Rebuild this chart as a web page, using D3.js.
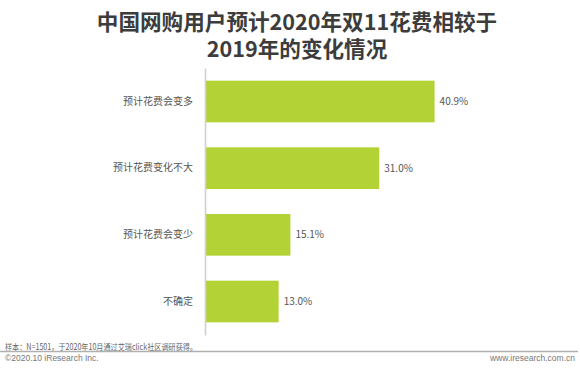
<!DOCTYPE html>
<html>
<head>
<meta charset="utf-8">
<script src="https://cdn.jsdelivr.net/npm/d3@7"></script>
<style>
  body { margin: 0; background: #fff; }
  svg { display: block; font-family: "Noto Sans CJK SC", "Microsoft YaHei", sans-serif; }
</style>
</head>
<body>
<svg width="580" height="370"></svg>
<script>
// data
var categories = ["预计花费会变多", "预计花费变化不大", "预计花费会变少", "不确定"];
var values = [40.9, 31.0, 15.1, 13.0];
var titleLines = ["中国网购用户预计2020年双11花费相较于", "2019年的变化情况"];
var note = "样本：N=1501，于2020年10月通过艾瑞click社区调研获得。";

var svg = d3.select("svg"),
  width = +svg.attr("width"),
  height = +svg.attr("height");

var x = d3.scaleLinear().domain([0, 45]).range([206, 457.5]);
var y = d3.scaleBand().domain(categories).range([68, 335])
  .paddingInner(0.375).paddingOuter(0.19);

// title
svg.append("g").selectAll("text")
  .data(titleLines)
  .enter().append("text")
  .attr("x", 297)
  .attr("y", function(d, i) { return 29.5 + i * 27; })
  .attr("text-anchor", "middle")
  .attr("font-size", 21.6)
  .attr("font-weight", "bold")
  .attr("fill", "#3c3c3c")
  .text(function(d) { return d; });

// bars
svg.append("g").selectAll("rect")
  .data(values)
  .enter().append("rect")
  .attr("x", x(0))
  .attr("y", function(d, i) { return y(categories[i]); })
  .attr("width", function(d) { return x(d) - x(0); })
  .attr("height", y.bandwidth())
  .attr("fill", "#b2d235");

// value labels
svg.append("g").selectAll("text")
  .data(values)
  .enter().append("text")
  .attr("x", function(d) { return x(d) + 5; })
  .attr("y", function(d, i) { return y(categories[i]) + y.bandwidth() / 2; })
  .attr("dy", "0.35em")
  .attr("font-size", 10)
  .attr("fill", "#555")
  .text(function(d) { return d.toFixed(1) + "%"; });

// category axis
var yAxis = svg.append("g")
  .attr("transform", "translate(205,0)")
  .call(d3.axisLeft(y).tickSize(0).tickPadding(12));
yAxis.select(".domain").attr("stroke", "#d0d0d0").attr("stroke-width", 1.6);
yAxis.selectAll("text")
  .attr("font-size", 10)
  .attr("fill", "#555")
  .attr("font-family", "'Noto Sans CJK SC', sans-serif");

// footer
svg.append("text")
  .attr("x", 5).attr("y", 350)
  .attr("font-size", 8.5)
  .attr("fill", "#666")
  .attr("textLength", 192)
  .attr("lengthAdjust", "spacingAndGlyphs")
  .text(note);

svg.append("line")
  .attr("x1", 0).attr("x2", 578)
  .attr("y1", 351.5).attr("y2", 351.5)
  .attr("stroke", "#b0b0b0")
  .attr("stroke-width", 1.5);

svg.append("text")
  .attr("x", 5).attr("y", 361)
  .attr("font-size", 8.5)
  .attr("font-family", "'Liberation Sans', Arial, sans-serif")
  .attr("fill", "#777")
  .text("©2020.10 iResearch Inc.");

svg.append("text")
  .attr("x", 575).attr("y", 361)
  .attr("text-anchor", "end")
  .attr("font-size", 8.5)
  .attr("font-family", "'Liberation Sans', Arial, sans-serif")
  .attr("fill", "#777")
  .text("www.iresearch.com.cn");
</script>
</body>
</html>
